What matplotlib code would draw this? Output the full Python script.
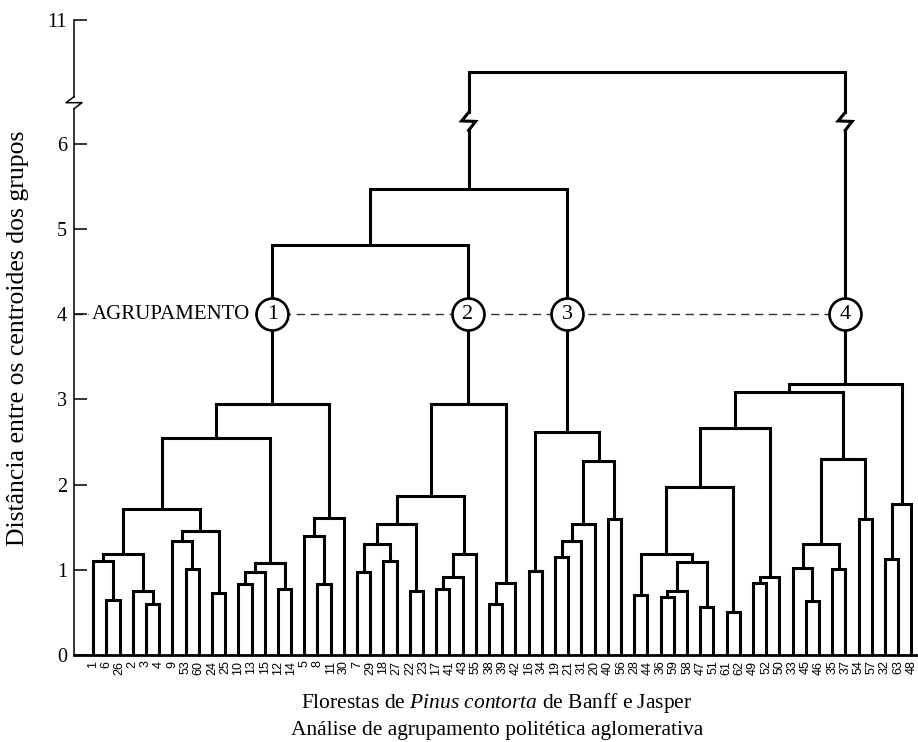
import matplotlib as mpl
mpl.use('Agg')
import matplotlib.pyplot as plt

SERIF = 'Liberation Serif'
mpl.rcParams['mathtext.fontset'] = 'custom'
mpl.rcParams['mathtext.rm'] = SERIF
mpl.rcParams['mathtext.it'] = SERIF + ':italic'

# leaf order along the x axis (stand numbers)
leaf_labels = [1, 6, 26, 2, 3, 4, 9, 53, 60, 24, 25, 10, 13, 15, 12, 14, 5, 8, 11, 30,
               7, 29, 18, 27, 22, 23, 17, 41, 43, 55, 38, 39, 42,
               16, 34, 19, 21, 31, 20, 40, 56,
               28, 44, 36, 59, 58, 47, 51, 61, 62, 49, 52, 50,
               33, 45, 46, 35, 37, 54, 57, 32, 63, 48]

# merges as (left, right, height); ints are leaves
c1_a = ((1, (6, 26, 0.65), 1.10), (2, (3, 4, 0.60), 0.75), 1.19)
c1_b = ((9, (53, 60, 1.01), 1.34), (24, 25, 0.73), 1.45)
c1_d = (((10, 13, 0.83), 15, 0.97), (12, 14, 0.77), 1.08)
c1_f = ((5, (8, 11, 0.83), 1.40), 30, 1.61)
cluster_1 = (((c1_a, c1_b, 1.71), c1_d, 2.55), c1_f, 2.95)

c2_g = (((7, 29, 0.97), (18, 27, 1.10), 1.30), (22, 23, 0.75), 1.54)
c2_h = (((17, 41, 0.78), 43, 0.91), 55, 1.19)
c2_j = ((38, 39, 0.60), 42, 0.85)
cluster_2 = ((c2_g, c2_h, 1.87), c2_j, 2.95)

c3_q = (((19, 21, 1.15), 31, 1.34), 20, 1.54)
cluster_3 = ((16, 34, 0.99), (c3_q, (40, 56, 1.60), 2.28), 2.62)

c4_k = ((28, 44, 0.70), (((36, 59, 0.68), 58, 0.75), (47, 51, 0.56), 1.09), 1.18)
c4_m = ((c4_k, (61, 62, 0.50), 1.97), ((49, 52, 0.84), 50, 0.91), 2.66)
c4_n = (((33, (45, 46, 0.63), 1.02), (35, 37, 1.01), 1.30), (54, 57, 1.60), 2.30)
cluster_4 = ((c4_m, c4_n, 3.08), ((32, 63, 1.13), 48, 1.77), 3.18)

clusters = [cluster_1, cluster_2, cluster_3, cluster_4]
cluster_names = ['1', '2', '3', '4']
h_12 = 4.81
h_123 = 5.47
h_root = 8.1      # drawn above the axis break
cut_level = 4.0

yticks = [0, 1, 2, 3, 4, 5, 6, 11]

# axis break: values above BREAK are squeezed so that 11 sits at the top
BREAK = 6.5
Y11 = 7.45


def to_disp(h):
    if h <= BREAK:
        return h
    return BREAK + (h - BREAK) * (Y11 - BREAK) / (11 - BREAK)


def layout(node, segs):
    if isinstance(node, int):
        return leaf_labels.index(node), 0.0
    left, right, h = node
    xl, yl = layout(left, segs)
    xr, yr = layout(right, segs)
    y = to_disp(h)
    segs.append(([xl, xl, xr, xr], [yl, y, y, yr]))
    return (xl + xr) / 2, y


W, H, DPI = 918, 742, 100
fig = plt.figure(figsize=(W / DPI, H / DPI), dpi=DPI)
ax_l, ax_b, ax_w, ax_h = 74, 87, 844, 635
ax = fig.add_axes([ax_l / W, ax_b / H, ax_w / W, ax_h / H])
xlim = (-1.45, 62.5)
ylim = (0, Y11)
ax.set_xlim(*xlim)
ax.set_ylim(*ylim)
px_x = ax_w / (xlim[1] - xlim[0])
px_y = ax_h / (ylim[1] - ylim[0])

LW = 2.2
segs = []
tops = [layout(c, segs) for c in clusters]
x12 = (tops[0][0] + tops[1][0]) / 2
segs.append(([tops[0][0], tops[0][0], tops[1][0], tops[1][0]],
             [tops[0][1], h_12, h_12, tops[1][1]]))
x123 = (x12 + tops[2][0]) / 2
segs.append(([x12, x12, tops[2][0], tops[2][0]], [h_12, h_123, h_123, tops[2][1]]))
for xs, ys in segs:
    ax.plot(xs, ys, color='black', lw=LW, solid_joinstyle='miter', zorder=2)

# root link with broken verticals
y_root = to_disp(h_root)
y_zig = 6.26
zig = [(0, 9), (-7, 0.5), (7, 0), (0, -9)]
ax.plot([x123, x123, tops[3][0], tops[3][0]],
        [y_zig + 9 / px_y, y_root, y_root, y_zig + 9 / px_y],
        color='black', lw=LW, solid_joinstyle='miter', zorder=2)
for x, y0 in [(x123, h_123), (tops[3][0], tops[3][1])]:
    ax.plot([x, x], [y0, y_zig - 9 / px_y], color='black', lw=LW, zorder=2)
    ax.plot([x + dx / px_x for dx, dy in zig], [y_zig + dy / px_y for dx, dy in zig],
            color='black', lw=LW, solid_joinstyle='miter', zorder=2)

# cut line with the cluster circles
ax.plot([xlim[0], tops[3][0]], [cut_level, cut_level], color='#333333', lw=1.0,
        ls=(0, (6, 4)), zorder=1)
for (x, _), name in zip(tops, cluster_names):
    ax.plot(x, cut_level, 'o', ms=23, mfc='white', mec='black', mew=1.9, zorder=4)
    ax.text(x, cut_level, name, ha='center', va='center', fontsize=16,
            family=SERIF, zorder=5)
ax.annotate('AGRUPAMENTO', (tops[0][0], cut_level), xytext=(-16, 0),
            textcoords='offset points', ha='right', va='center', fontsize=15,
            family=SERIF, zorder=3,
            bbox=dict(boxstyle='square,pad=0.15', fc='white', ec='none'))

# axes styling
for side in ['top', 'right', 'left']:
    ax.spines[side].set_visible(False)
ax.spines['bottom'].set_linewidth(2.0)
y_brk = 6.48
ax.plot([xlim[0]] * 2, [0, y_brk - 6 / px_y], color='black', lw=1.1, clip_on=False)
ax.plot([xlim[0]] * 2, [y_brk + 6 / px_y, Y11], color='black', lw=1.1, clip_on=False)
azig = [(0, 6), (-8, 0), (8, 0), (0, -6)]
ax.plot([xlim[0] + dx / px_x for dx, dy in azig], [y_brk + dy / px_y for dx, dy in azig],
        color='black', lw=1.1, clip_on=False)

ax.set_yticks([to_disp(v) for v in yticks])
ax.set_yticklabels([str(v) for v in yticks], family=SERIF, fontsize=14.5)
ax.tick_params(axis='y', direction='in', length=9.5, width=1.1, pad=5)
ax.set_xticks(range(len(leaf_labels)))
ax.set_xticklabels([str(v) for v in leaf_labels], rotation=90, fontsize=9,
                   family='Liberation Sans')
ax.tick_params(axis='x', length=0, pad=4)

fig.text(18 / W, 1 - 338 / H, 'Distância entre os centroides dos grupos', rotation=90,
         ha='center', va='center', fontsize=18.5, family=SERIF)
fig.text(497 / W, 1 - 703 / H, r'Florestas de $\mathit{Pinus\ contorta}$ de Banff e Jasper',
         ha='center', va='center', fontsize=15.5, family=SERIF)
fig.text(497 / W, 1 - 730 / H, 'Análise de agrupamento politética aglomerativa',
         ha='center', va='center', fontsize=15.5, family=SERIF)

fig.savefig('out.png', dpi=DPI)
